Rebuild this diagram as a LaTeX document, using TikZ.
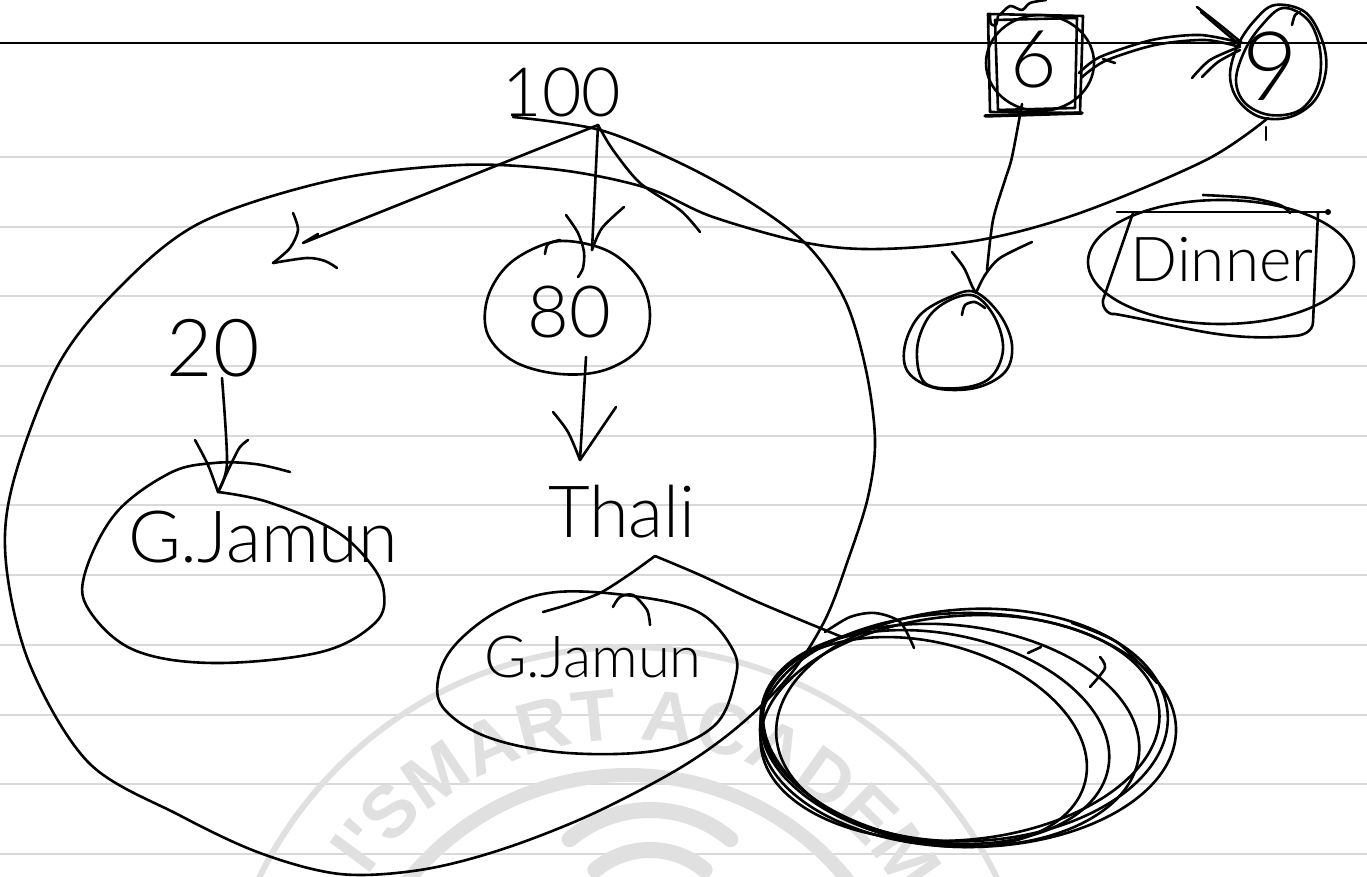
\documentclass[tikz,border=0pt]{standalone}
\usepackage{fontspec}
\setmainfont{Lato}
\newfontfamily\hand{Lato Light}
\newfontfamily\wmfont{Liberation Sans}
\usetikzlibrary{decorations.text}
\definecolor{rulegray}{RGB}{217,217,217}
\definecolor{wmgray}{RGB}{224,224,224}
\tikzset{
  hand/.style={line width=2.6pt, line cap=round, line join=round, black},
  rule/.style={line width=2pt, rulegray},
  wm/.style={wmgray, line cap=round},
  txt/.style={inner sep=0pt, anchor=center, font=\hand},
}
\begin{document}
\begin{tikzpicture}[x=1pt,y=-1pt]
\useasboundingbox (0,0) rectangle (1367,877);
\clip (0,0) rectangle (1367,877);
\fill[white] (0,0) rectangle (1367,877);
% ruled paper
\foreach \yy in {157,227,296,366,436,505,575,645,715,784,854}
  \draw[rule] (0,\yy) -- (1367,\yy);
\draw[line width=2pt] (0,43) -- (1367,43);
% watermark
\begin{scope}[x=1pt,y=1pt]
  \coordinate (wmc) at (628,-1057);
  \draw[wm, line width=6pt] (wmc) circle[radius=410];
  \draw[wm, line width=14pt] (wmc) circle[radius=282];
  \path[decorate, decoration={text along path, text color=wmgray,
      text={|\wmfont\bfseries\fontsize{73}{73}\selectfont|I'SMART ACADEMY}, text align=center}]
      (wmc) ++(163.3:317) arc[start angle=163.3, end angle=3.3, radius=317];
  \foreach \r in {45,85,125}
    \draw[wm, line width=16pt] (650,-935) ++(50:\r) arc[start angle=50, end angle=130, radius=\r];
\end{scope}
% texts
\node[txt, font=\hand\fontsize{68}{68}\selectfont] (n100) at (562,92) {100};
\node[txt, font=\hand\fontsize{80}{80}\selectfont] (n20) at (213,348) {20};
\node[txt, font=\hand\fontsize{72}{72}\selectfont] (n80) at (569,312) {80};
\node[txt, font=\hand\fontsize{72}{72}\selectfont] (thali) at (622,512) {Thali};
\node[txt, font=\hand\fontsize{72}{72}\selectfont] (gj1) at (263,537) {G.Jamun};
\node[txt, font=\hand\fontsize{58}{58}\selectfont] (gj2) at (593,657) {G.Jamun};
\node[txt, font=\hand\fontsize{80}{80}\selectfont] (n6) at (1034,60) {6};
\node[txt, font=\hand\fontsize{96}{96}\selectfont] (n9) at (1270,66) {9};
\node[txt, font=\hand\fontsize{62}{62}\selectfont] (dinner) at (1222,260) {Dinner};
% connector end points
\coordinate (top) at (598,125);
\coordinate (leftTip) at (303,243);
\coordinate (tip80) at (592,250);
\coordinate (out80) at (586,357);
\coordinate (tipThali) at (580,460);
\coordinate (outThali) at (655,556);
\coordinate (tipGj2) at (543,612);
\coordinate (tipScrib) at (842,637);
\coordinate (out20) at (222,378);
\coordinate (tipGj1) at (218,492);
\coordinate (out6) at (1022,104);
\coordinate (tipSmall) at (976,293);
\coordinate (out6r) at (1079,73);
\coordinate (tip9) at (1242,43);
% big enclosing oval continuing to the 9
\draw[hand] plot[smooth, tension=0.55] coordinates {(513,117) (600,130) (680,163) (747,200) (807,245) (845,300) (866,370) (875,440) (868,497) (848,560) (825,620) (790,675) (740,725) (680,768) (590,815) (500,850) (420,870) (340,874) (260,853) (179,815) (89,763) (30,665) (6,563) (13,483) (57,367) (117,290) (200,223) (333,180) (460,165) (560,170) (647,188) (713,217) (807,243) (880,249) (980,240) (1080,213) (1206,160) (1268,118)};
\draw[hand] (1266,127) -- (1266,140);
% hook from 100
\draw[hand] plot[smooth] coordinates {(top) (613,150) (640,183) (680,210) (700,232)};
% 100 -> left
\draw[hand] (top) -- (leftTip) -- (318,234);
\draw[hand] plot[smooth] coordinates {(293,213) (298,230) (290,248) (273,263)};
\draw[hand] plot[smooth] coordinates {(273,263) (307,258) (325,261) (337,268)};
% 100 -> 80
\draw[hand] (top) -- (tip80);
\draw[hand] plot[smooth] coordinates {(624,207) (602,228) (tip80)};
\draw[hand] plot[smooth] coordinates {(566,215) (578,233) (584,252) (583,268) (578,277)};
% 80 circle
\draw[hand] plot[smooth cycle, tension=0.6] coordinates {(567,241) (610,252) (640,280) (650,315) (640,348) (605,370) (560,374) (515,362) (488,335) (487,300) (505,268) (535,248)};
\draw[hand] plot[smooth] coordinates {(545,254) (548,244) (560,240)};
% 80 -> Thali
\draw[hand] (out80) -- (tipThali);
\draw[hand] plot[smooth] coordinates {(553,412) (568,432) (tipThali)};
\draw[hand] (616,407) -- (tipThali);
% Thali -> G.Jamun (right)
\draw[hand] plot[smooth] coordinates {(outThali) (630,574) (600,593) (570,604) (tipGj2)};
\draw[hand] plot[smooth] coordinates {(613,607) (620,597) (633,595) (647,610) (650,625)};
% Thali -> scribble
\draw[hand] plot[smooth] coordinates {(outThali) (700,575) (760,603) (tipScrib)};
% 20 -> G.Jamun (left)
\draw[hand] plot[smooth] coordinates {(out20) (227,463) (tipGj1)};
\draw[hand] plot[smooth] coordinates {(195,440) (208,465) (tipGj1)};
\draw[hand] plot[smooth] coordinates {(248,440) (240,447) (233,460) (tipGj1)};
% G.Jamun left oval
\draw[hand] plot[smooth, tension=0.6] coordinates {(tipGj1) (268,502) (334,530) (370,563) (384,593) (375,623) (321,652) (214,663) (134,650) (89,610) (85,573) (116,513) (170,473) (214,463) (255,464) (290,472)};
% G.Jamun right oval
\draw[hand] plot[smooth cycle, tension=0.6] coordinates {(557,592) (640,597) (700,613) (733,650) (735,680) (715,725) (660,750) (568,753) (490,738) (445,710) (438,680) (455,645) (500,610)};
% scribbled ellipse
\draw[hand] (968,730) ellipse[x radius=208, y radius=117];
\draw[hand] (960,728) ellipse[x radius=200, y radius=112, rotate=5];
\draw[hand] (950,735) ellipse[x radius=190, y radius=110, rotate=-6];
\draw[hand] (935,737) ellipse[x radius=176, y radius=104, rotate=-10];
\draw[hand] (925,742) ellipse[x radius=165, y radius=100, rotate=-14];
\draw[hand] (972,725) ellipse[x radius=196, y radius=116, rotate=3];
\draw[hand] plot[smooth] coordinates {(825,632) (850,617) (875,613) (900,622) (914,648)};
\draw[hand] (1028,653) -- (1041,647);
\draw[hand] plot[smooth] coordinates {(1090,687) (1105,668) (1100,657)};
\draw[hand] plot[smooth] coordinates {(1072,623) (1118,643) (1157,683)};
% 6 square
\draw[hand] (988,14) -- (1083,16) -- (1080,113) -- (990,112) -- cycle;
\draw[hand] (995,20) -- (1077,18) -- (1075,108) -- (998,110) -- cycle;
\draw[hand] (1040,63) ellipse[x radius=54, y radius=48];
\draw[hand, line width=3.5pt] (985,116) -- (1082,113);
\draw[hand] plot[smooth] coordinates {(1000,15) (1010,6) (1022,10) (1030,3) (1046,0)};
\draw[hand] plot[smooth] coordinates {(990,15) (991,24) (996,25) (998,16)};
% 6 -> small circle
\draw[hand] plot[smooth] coordinates {(out6) (1012,157) (1005,180) (993,220) (987,270)};
\draw[hand] plot[smooth] coordinates {(952,252) (964,268) (972,286) (tipSmall)};
\draw[hand] plot[smooth] coordinates {(1032,242) (1000,258) (985,275) (tipSmall)};
% small circle
\draw[hand] plot[smooth cycle, tension=0.6] coordinates {(975,292) (1000,315) (1012,345) (1005,372) (975,388) (935,388) (908,372) (905,345) (920,315) (950,297)};
\draw[hand] plot[smooth cycle, tension=0.6] coordinates {(975,296) (995,318) (1003,350) (990,378) (960,388) (925,383) (917,350) (928,318) (950,300)};
\draw[hand] plot[smooth] coordinates {(962,315) (965,305) (975,302) (985,308)};
% 6 -> 9
\draw[hand] plot[smooth] coordinates {(out6r) (1100,57) (1152,40) (1200,35) (tip9)};
\draw[hand] plot[smooth] coordinates {(1081,78) (1105,61) (1155,45) (1205,40) (1240,47)};
\draw[hand] (1103,59) -- (1115,63);
\draw[hand] plot[smooth] coordinates {(1197,7) (1220,25) (tip9)};
\draw[hand] plot[smooth] coordinates {(1201,12) (1222,30) (1240,45)};
\draw[hand] plot[smooth] coordinates {(1192,78) (1210,60) (1239,47)};
\draw[hand] plot[smooth] coordinates {(1202,77) (1218,62) (1240,50)};
% 9 circle
\draw[hand] plot[smooth cycle, tension=0.6] coordinates {(1275,5) (1305,12) (1322,40) (1326,70) (1315,100) (1290,117) (1260,117) (1238,100) (1230,75) (1238,45) (1255,20)};
\draw[hand] plot[smooth cycle, tension=0.6] coordinates {(1283,8) (1308,20) (1320,50) (1318,85) (1300,110) (1270,115) (1245,103) (1236,80) (1245,50) (1262,25)};
\draw[hand] plot[smooth] coordinates {(1292,25) (1295,15) (1300,12)};
% Dinner box and ellipse
\draw[hand] (1117,212) -- (1328,212);
\fill (1328,212) circle[radius=3];
\draw[hand] (1318,213) -- (1313,322) to[out=-90,in=0] (1293,336) to[out=185,in=-10] (1115,314) to[out=190,in=-100] (1103,300) -- (1133,213);
\draw[hand] (1221,262) ellipse[x radius=133, y radius=62];
\draw[hand] plot[smooth] coordinates {(1203,195) (1250,198) (1280,205) (1290,213)};
\end{tikzpicture}
\end{document}
